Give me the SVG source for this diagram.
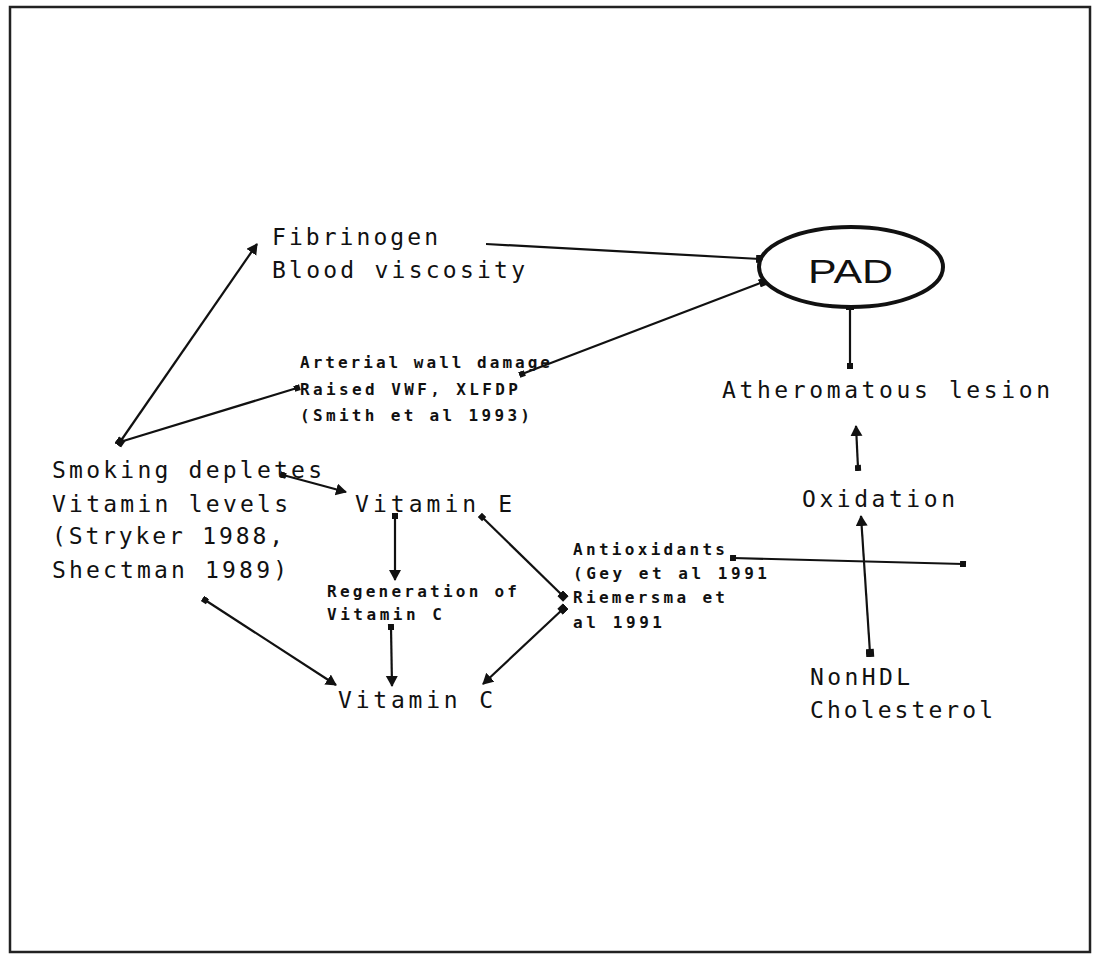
<svg xmlns="http://www.w3.org/2000/svg" width="1093" height="955" viewBox="0 0 1093 955">
<style>
.big{font-family:"DejaVu Sans Mono","Liberation Mono",monospace;font-size:23px;fill:#111}
.sm{font-family:"DejaVu Sans Mono","Liberation Mono",monospace;font-size:16px;font-weight:bold;fill:#111}
.pad{font-family:"Liberation Sans",Arial,sans-serif;font-size:34px;fill:#111}
.ln{stroke:#111;stroke-width:2.2;fill:none}
</style>
<defs>
<marker id="arr" markerUnits="userSpaceOnUse" markerWidth="14" markerHeight="14" refX="10" refY="6" orient="auto">
<path d="M0,0 L11,6 L0,12 Z" fill="#111"/>
</marker>
<marker id="sq" markerUnits="userSpaceOnUse" markerWidth="10" markerHeight="10" refX="4" refY="4" orient="auto">
<rect x="0" y="0" width="8" height="8" fill="#111"/>
</marker>
<marker id="dot" markerUnits="userSpaceOnUse" markerWidth="8" markerHeight="8" refX="3" refY="3" orient="auto">
<rect x="0" y="0" width="6" height="6" fill="#111"/>
</marker>
</defs>
<rect x="0" y="0" width="1093" height="955" fill="#fff"/>
<rect x="10" y="7" width="1080" height="945" fill="none" stroke="#222" stroke-width="2.5"/>

<g id="connectors">
<line class="ln" x1="120" y1="442" x2="257" y2="244" marker-start="url(#sq)" marker-end="url(#arr)"/>
<line class="ln" x1="120" y1="442" x2="297" y2="388" marker-end="url(#dot)"/>
<line class="ln" x1="486" y1="244" x2="760" y2="259" marker-end="url(#sq)"/>
<line class="ln" x1="522" y1="374" x2="763" y2="282" marker-start="url(#dot)" marker-end="url(#sq)"/>
<line class="ln" x1="850" y1="366" x2="850" y2="306" marker-start="url(#dot)" marker-end="url(#sq)"/>
<line class="ln" x1="858" y1="468" x2="856" y2="426" marker-start="url(#dot)" marker-end="url(#arr)"/>
<line class="ln" x1="870" y1="653" x2="861" y2="516" marker-start="url(#sq)" marker-end="url(#arr)"/>
<line class="ln" x1="733" y1="558" x2="963" y2="564" marker-start="url(#dot)" marker-end="url(#dot)"/>
<line class="ln" x1="283" y1="475" x2="346" y2="492" marker-start="url(#dot)" marker-end="url(#arr)"/>
<line class="ln" x1="395" y1="516" x2="395" y2="580" marker-start="url(#dot)" marker-end="url(#arr)"/>
<line class="ln" x1="391" y1="627" x2="392" y2="686" marker-start="url(#dot)" marker-end="url(#arr)"/>
<line class="ln" x1="205" y1="600" x2="336" y2="685" marker-start="url(#dot)" marker-end="url(#arr)"/>
<line class="ln" x1="482" y1="517" x2="563" y2="596" marker-start="url(#dot)" marker-end="url(#sq)"/>
<line class="ln" x1="563" y1="609" x2="483" y2="684" marker-start="url(#sq)" marker-end="url(#arr)"/>
</g>

<g id="pad">
<ellipse cx="851" cy="267" rx="92" ry="40" fill="#fff" stroke="#111" stroke-width="4"/>
<text class="pad" x="808" y="283" textLength="85" lengthAdjust="spacingAndGlyphs">PAD</text>
</g>
<g id="fibrinogen">
<text class="big" x="272" y="245" textLength="166" lengthAdjust="spacing">Fibrinogen</text>
<text class="big" x="272" y="278" textLength="253" lengthAdjust="spacing">Blood viscosity</text>
</g>
<g id="arterial">
<text class="sm" x="300" y="368" textLength="250" lengthAdjust="spacing">Arterial wall damage</text>
<text class="sm" x="300" y="395" textLength="218" lengthAdjust="spacing">Raised VWF, XLFDP</text>
<text class="sm" x="300" y="421" textLength="230" lengthAdjust="spacing">(Smith et al 1993)</text>
</g>
<g id="atheromatous">
<text class="big" x="722" y="398" textLength="328" lengthAdjust="spacing">Atheromatous lesion</text>
</g>
<g id="smoking">
<text class="big" x="52" y="478" textLength="270" lengthAdjust="spacing">Smoking depletes</text>
<text class="big" x="52" y="512" textLength="236" lengthAdjust="spacing">Vitamin levels</text>
<text class="big" x="52" y="544" textLength="231" lengthAdjust="spacing">(Stryker 1988,</text>
<text class="big" x="52" y="578" textLength="235" lengthAdjust="spacing">Shectman 1989)</text>
</g>
<g id="vitamin-e">
<text class="big" x="355" y="512" textLength="157" lengthAdjust="spacing">Vitamin E</text>
</g>
<g id="regeneration">
<text class="sm" x="327" y="597" textLength="190" lengthAdjust="spacing">Regeneration of</text>
<text class="sm" x="327" y="620" textLength="115" lengthAdjust="spacing">Vitamin C</text>
</g>
<g id="vitamin-c">
<text class="big" x="338" y="708" textLength="155" lengthAdjust="spacing">Vitamin C</text>
</g>
<g id="antioxidants">
<text class="sm" x="573" y="555" textLength="152" lengthAdjust="spacing">Antioxidants</text>
<text class="sm" x="573" y="579" textLength="194" lengthAdjust="spacing">(Gey et al 1991</text>
<text class="sm" x="573" y="603" textLength="152" lengthAdjust="spacing">Riemersma et</text>
<text class="sm" x="573" y="628" textLength="89" lengthAdjust="spacing">al 1991</text>
</g>
<g id="oxidation">
<text class="big" x="802" y="507" textLength="153" lengthAdjust="spacing">Oxidation</text>
</g>
<g id="nonhdl">
<text class="big" x="810" y="685" textLength="100" lengthAdjust="spacing">NonHDL</text>
<text class="big" x="810" y="718" textLength="183" lengthAdjust="spacing">Cholesterol</text>
</g>
</svg>
